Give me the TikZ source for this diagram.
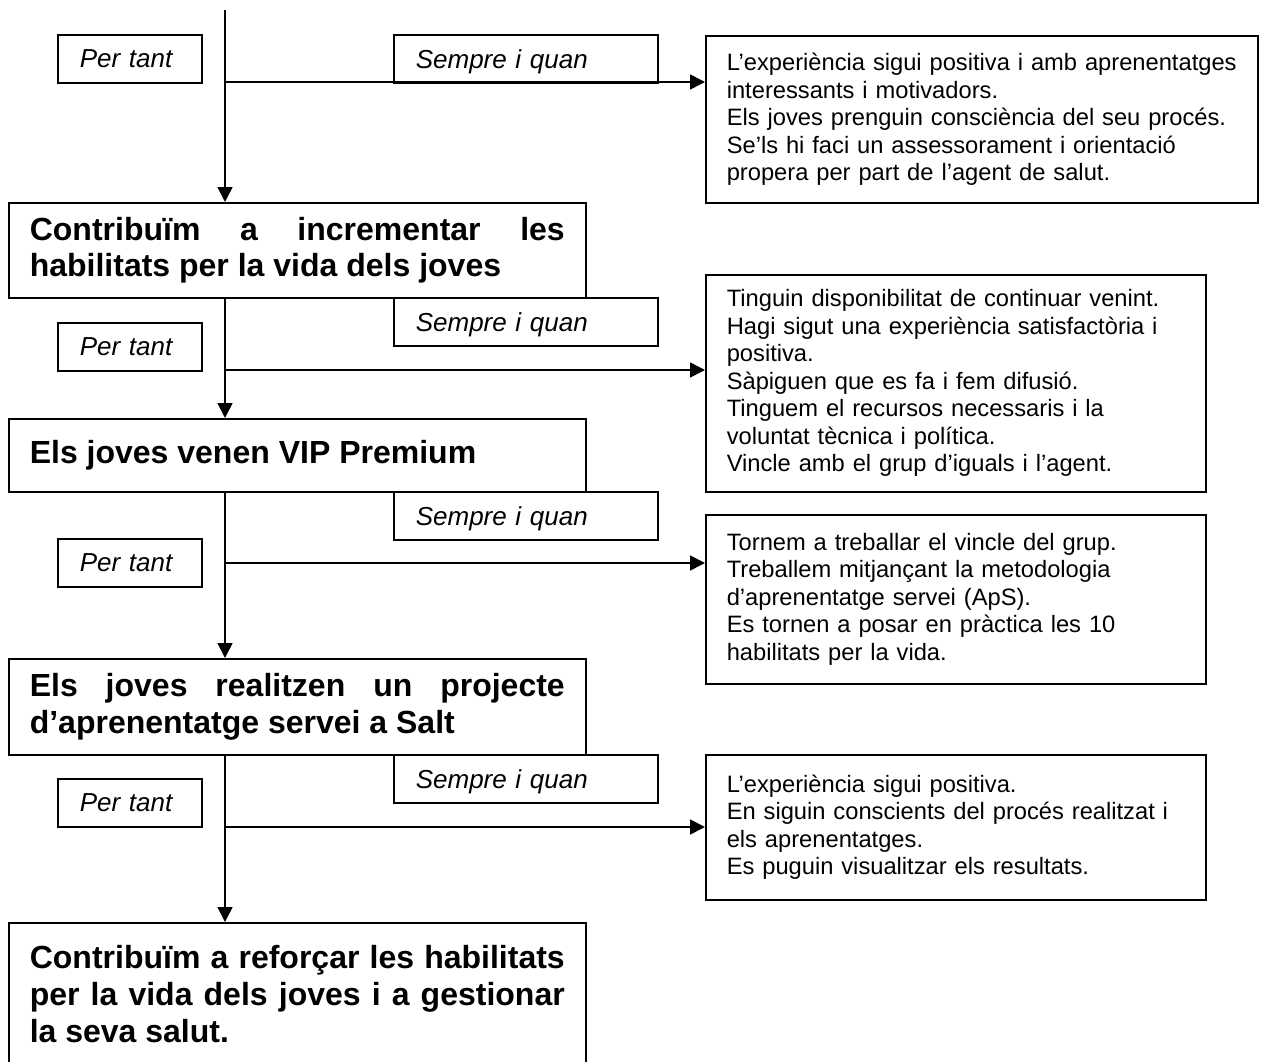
\documentclass[tikz,border=0pt]{standalone}
\usepackage{fontspec}
\setmainfont{Liberation Sans}
\usetikzlibrary{arrows.meta}
\tikzset{
  boxbase/.style={draw, line width=1.6pt, rectangle, anchor=north west, inner xsep=21pt, inner ysep=0pt},
  bigbox/.style={boxbase, minimum width=577pt, text width=535pt, align=justify,
    font=\fontsize{32pt}{36.8pt}\selectfont\bfseries},
  condbox/.style={boxbase, align=left, font=\fontsize{23.7pt}{27.5pt}\selectfont},
  tagbox/.style={boxbase, inner xsep=22pt, align=left, minimum height=48pt, text depth=0pt,
    font=\fontsize{26pt}{29pt}\selectfont\itshape},
  conn/.style={line width=1.6pt, -{Triangle[length=15pt,width=15pt]}}
}
\begin{document}
\begin{tikzpicture}[x=1pt,y=-1pt]
\useasboundingbox (0,0) rectangle (1264,1062);
\clip (0,0) rectangle (1264,1062);

% main boxes
\node[bigbox, minimum height=95pt] (b1) at (8,202)
  {Contribuïm a incrementar les\linebreak habilitats per la vida dels joves};
\node[bigbox, minimum height=73pt] (b2) at (8,418)
  {Els joves venen VIP Premium};
\node[bigbox, minimum height=96pt] (b3) at (8,658)
  {Els joves realitzen un projecte\linebreak d’aprenentatge servei a Salt};
\node[bigbox, minimum height=142pt] (b4) at (8,922)
  {Contribuïm a reforçar les habilitats\linebreak per la vida dels joves i a gestionar\linebreak la seva salut.};

% "Per tant" boxes
\node[tagbox, minimum width=144pt, text width=100pt] (p1) at (57,34) {Per tant};
\node[tagbox, minimum width=144pt, text width=100pt] (p2) at (57,322) {Per tant};
\node[tagbox, minimum width=144pt, text width=100pt] (p3) at (57,538) {Per tant};
\node[tagbox, minimum width=144pt, text width=100pt] (p4) at (57,778) {Per tant};

% "Sempre i quan" boxes
\node[tagbox, minimum width=264pt, text width=220pt] (s1) at (393,34) {Sempre i quan};
\node[tagbox, minimum width=264pt, text width=220pt] (s2) at (393,297) {Sempre i quan};
\node[tagbox, minimum width=264pt, text width=220pt] (s3) at (393,491) {Sempre i quan};
\node[tagbox, minimum width=264pt, text width=220pt] (s4) at (393,754) {Sempre i quan};

% condition boxes
\node[condbox, minimum width=552pt, text width=510pt, minimum height=167pt] (r1) at (705,35)
  {L’experiència sigui positiva i amb aprenentatges\\
   interessants i motivadors.\\
   Els joves prenguin consciència del seu procés.\\
   Se’ls hi faci un assessorament i orientació\\
   propera per part de l’agent de salut.};
\node[condbox, minimum width=500pt, text width=458pt, minimum height=217pt] (r2) at (705,274)
  {Tinguin disponibilitat de continuar venint.\\
   Hagi sigut una experiència satisfactòria i\\
   positiva.\\
   Sàpiguen que es fa i fem difusió.\\
   Tinguem el recursos necessaris i la\\
   voluntat tècnica i política.\\
   Vincle amb el grup d’iguals i l’agent.};
\node[condbox, minimum width=500pt, text width=458pt, minimum height=169pt] (r3) at (705,514)
  {Tornem a treballar el vincle del grup.\\
   Treballem mitjançant la metodologia\\
   d’aprenentatge servei (ApS).\\
   Es tornen a posar en pràctica les 10\\
   habilitats per la vida.};
\node[condbox, minimum width=500pt, text width=458pt, minimum height=145pt] (r4) at (705,754)
  {L’experiència sigui positiva.\\
   En siguin conscients del procés realitzat i\\
   els aprenentatges.\\
   Es puguin visualitzar els resultats.};

% spine
\coordinate (top) at (225,10);
\coordinate (j1) at (225,82);
\coordinate (j2) at (225,370);
\coordinate (j3) at (225,563);
\coordinate (j4) at (225,827);

\draw[conn] (top) -- (top |- b1.north);
\draw[conn] (top |- b1.south) -- (top |- b2.north);
\draw[conn] (top |- b2.south) -- (top |- b3.north);
\draw[conn] (top |- b3.south) -- (top |- b4.north);

\draw[conn] (j1) -- (j1 -| r1.west);
\draw[conn] (j2) -- (j2 -| r2.west);
\draw[conn] (j3) -- (j3 -| r3.west);
\draw[conn] (j4) -- (j4 -| r4.west);
\end{tikzpicture}
\end{document}
